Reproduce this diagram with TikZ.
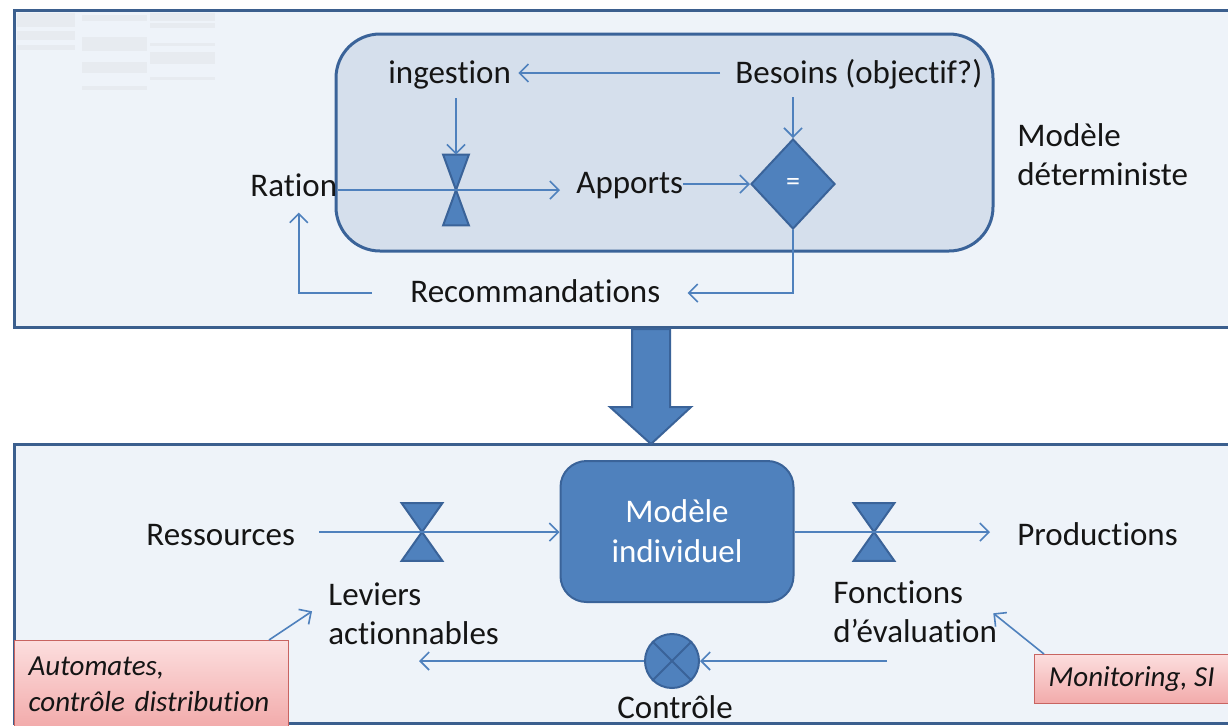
\documentclass[tikz,border=0pt]{standalone}
\usepackage{fontspec}
\setmainfont{Carlito}[Ligatures=NoCommon]
\usetikzlibrary{arrows.meta,shapes.geometric,calc}
\definecolor{frame}{HTML}{3B5F8E}
\definecolor{panel}{HTML}{EEF3F9}
\definecolor{innerc}{HTML}{D5DFEC}
\definecolor{acc}{HTML}{4F81BD}
\definecolor{accd}{HTML}{3A6399}
\definecolor{txt}{HTML}{151515}
\definecolor{pinkA}{HTML}{FCDEDE}
\definecolor{pinkB}{HTML}{F2AAAA}
\definecolor{pinkL}{HTML}{C86461}
\definecolor{ghost}{HTML}{E7EBF0}
\newcommand\hglass[5]{%
  \node[minimum width=#4, minimum height=#5, inner sep=0pt] (#1) at (#2,#3) {};
  \filldraw[fill=acc, draw=accd, line width=1pt, line join=miter]
    (#1.north west) -- (#1.north east) -- (#1.center) -- cycle
    (#1.south west) -- (#1.south east) -- (#1.center) -- cycle;}
\begin{document}
\begin{tikzpicture}[x=0.5pt,y=-0.5pt,
  lbl/.style={font=\fontsize{16.5}{19.5}\selectfont, text=txt, inner sep=0pt},
  note/.style={font=\fontsize{14.5}{18}\selectfont\itshape, text=txt},
  flow/.style={draw=acc, line width=0.8pt, -{Straight Barb[length=4.5pt,width=9pt]}},
  pinkbox/.style={draw=pinkL, line width=0.6pt, top color=pinkA, bottom color=pinkB, inner xsep=7pt},
  panelbox/.style={fill=panel, draw=frame, line width=1.5pt}]
\path[use as bounding box] (0,0) rectangle (1228,725);
\clip (0,0) rectangle (1228,725);
\fill[white] (0,0) rectangle (1228,725);

% panels
\draw[panelbox] (14,10) rectangle (1245,327);
\draw[panelbox] (14,444) rectangle (1245,723);

% faint ghost marks top-left
\fill[ghost] (17,13) rectangle (75,27);
\fill[ghost] (17,31) rectangle (75,40);
\fill[ghost] (17,45) rectangle (75,50);
\fill[ghost] (82,15) rectangle (147,21);
\fill[ghost] (82,37) rectangle (147,51);
\fill[ghost] (82,62) rectangle (147,73);
\fill[ghost] (82,86) rectangle (147,90);
\fill[ghost] (150,13) rectangle (215,21);
\fill[ghost] (150,23) rectangle (215,28);
\fill[ghost] (150,43) rectangle (215,46);
\fill[ghost] (150,52) rectangle (215,64);
\fill[ghost] (150,77) rectangle (215,80);

% inner rounded box
\draw[fill=innerc, draw=accd, line width=1.5pt, rounded corners=22pt] (336,34) rectangle (993,251);

% row helpers
\coordinate (r1) at (0,73);
\coordinate (r3) at (0,293);

% top labels
\node[lbl, anchor=base west] (ingestion) at (388,83) {ingestion};
\node[lbl, anchor=base west] (besoins) at (735,83) {Besoins (objectif?)};
\node[lbl, anchor=base west] (ration) at (250,196) {Ration};
\node[lbl, anchor=base west] (apports) at (576,193) {Apports};
\node[lbl, anchor=base west] (recomm) at (410,302) {Recommandations};
\node[lbl, anchor=base west, align=left] (determ) at (1017,185) {Modèle\\déterministe};

\hglass{hg1}{456}{190}{12.5pt}{35pt}
\node[diamond, fill=acc, draw=accd, line width=1pt, minimum width=42pt, minimum height=45pt,
      inner sep=0pt, font=\fontsize{14}{16}\selectfont, text=white] (eq) at (793,184) {=};

% top connectors
\draw[flow, shorten <=7.5pt, shorten >=3.5pt] (besoins.west |- r1) -- (ingestion.east |- r1);
\draw[flow, shorten <=4.5pt] (hg1.north |- ingestion.south) -- (hg1.north);
\draw[flow, shorten >=8pt] (ration.east |- hg1.center) -- (apports.west |- hg1.center);
\draw[flow] (apports.east |- eq) -- (eq.west);
\draw[flow, shorten <=4pt] (eq.north |- besoins.south) -- (eq.north);
\draw[flow, shorten >=13.5pt] (eq.south) |- (recomm.east |- r3);
\draw[flow, shorten <=19pt, shorten >=8pt] (recomm.west |- r3) -| ($(ration.south)+(5,0)$);

% big arrow
\filldraw[fill=acc, draw=accd, line width=1pt, line join=miter]
  (632,329) -- (670,329) -- (670,407) -- (691,407) -- (651,444) -- (610,407) -- (632,407) -- cycle;

% bottom
\node[lbl, anchor=base west] (ressources) at (146,545) {Ressources};
\node[fill=acc, draw=accd, line width=1pt, rounded corners=13pt, minimum width=116.5pt,
      minimum height=70.5pt, align=center, font=\fontsize{16.5}{20}\selectfont, text=white]
      (model) at (677,531.5) {Modèle\\individuel};
\node[lbl, anchor=base west] (productions) at (1017,545) {Productions};
\node[lbl, anchor=base west, align=left] (leviers) at (328,644) {Leviers\\actionnables};
\node[lbl, anchor=base west, align=left] (fonctions) at (833,642) {Fonctions\\d’évaluation};
\hglass{hg2}{422}{532}{20pt}{28.5pt}
\hglass{hg3}{874}{532}{20pt}{28.5pt}
\node[circle, fill=acc, draw=accd, line width=1pt, minimum size=27pt, inner sep=0pt] (ctrl) at (672,661) {};
\draw[accd, line width=1pt] (ctrl.north west) -- (ctrl.south east) (ctrl.north east) -- (ctrl.south west);
\node[lbl, anchor=base] (controle) at (675,718) {Contrôle};

\node[pinkbox, anchor=north west, text width=123pt, minimum height=44pt, align=left, note]
  (auto) at (14,640) {Automates,\\contrôle distribution};
\node[pinkbox, anchor=north west, minimum height=24.5pt, note]
  (monit) at (1034,654) {Monitoring, SI};

% bottom connectors
\draw[flow, shorten <=12pt] (ressources.east |- hg2) -- (model.west |- hg2);
\draw[flow, shorten >=13.5pt] (model.east |- hg3) -- (productions.west |- hg3);
\draw[flow] ($(fonctions.west |- ctrl)+(54,0)$) -- (ctrl.east);
\draw[flow] (ctrl.west) -- ($(leviers.west |- ctrl)+(91,0)$);
\draw[flow] ($(auto.north west)+(255,0)$) -- ($(leviers.west)+(-16,-2)$);
\draw[flow] ($(monit.north west)+(10,0)$) -- ($(fonctions.east)+(-4,2)$);
\end{tikzpicture}
\end{document}
